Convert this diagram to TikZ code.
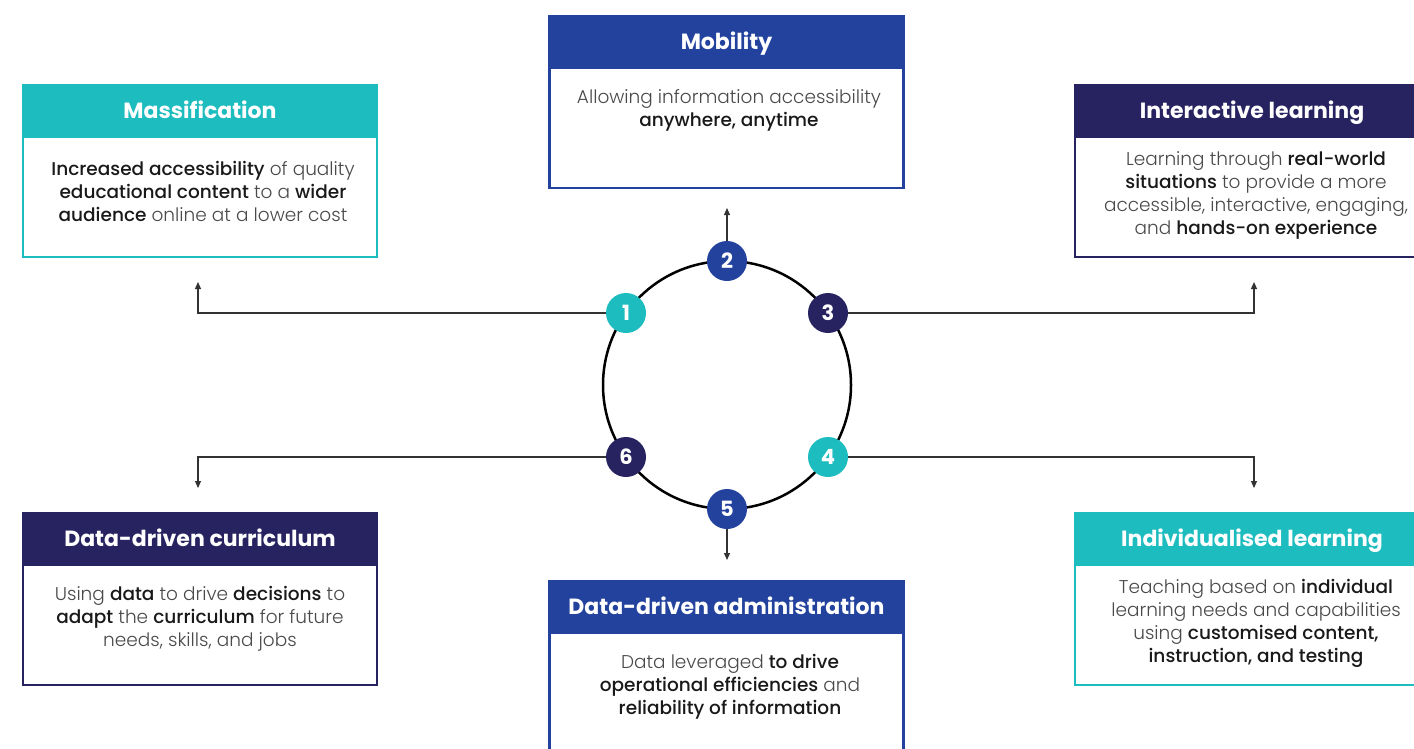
\documentclass[tikz,border=0pt]{standalone}
\usepackage{fontspec}
\setmainfont{Poppins}
\newfontface\medfont{Poppins Medium}
\newfontface\lightfont{Poppins Light}
\usetikzlibrary{arrows.meta}
\definecolor{cteal}{HTML}{1CBCBF}
\definecolor{cblue}{HTML}{22429E}
\definecolor{cnavy}{HTML}{272360}
\definecolor{ctext}{HTML}{4A4A4A}
\newcommand{\strongtxt}[1]{{\medfont\color{black!90}#1}}
\tikzset{
  card/.style={draw=#1, line width=2.5pt, fill=white, minimum width=354pt, minimum height=172pt, inner sep=0pt},
  cardhead/.style={draw=#1, fill=#1, line width=2.5pt, minimum width=354pt, minimum height=52pt, inner sep=0pt, text=white, text height=15pt, text depth=0pt, font=\fontsize{22}{26}\selectfont\bfseries},
  cardbody/.style={align=center, text=ctext, inner sep=0pt, font=\fontsize{18.5}{23}\selectfont\lightfont},
  num/.style={circle, fill=#1, minimum size=40pt, inner sep=0pt, text=white, font=\fontsize{21}{24}\selectfont\bfseries},
  ring/.style={circle, draw=black, line width=2.5pt, minimum size=248pt, inner sep=0pt},
  conn/.style={line width=1.2pt, draw=black!80, -{Triangle[length=7pt,width=6pt]}},
}
\begin{document}
\begin{tikzpicture}[x=1pt,y=-1pt]
\useasboundingbox (0,0) rectangle (1414,748);
\clip (0,0) rectangle (1414,748);
\fill[white] (0,0) rectangle (1414,748);

% cards
\node[card=cteal] (c1) at (200,171) {};
\node[cardhead=cteal, anchor=north] (h1) at (c1.north) {Massification};
\node[cardbody] (b1) at (203,191) {\strongtxt{Increased accessibility} of quality\\ \strongtxt{educational content} to a \strongtxt{wider}\\ \strongtxt{audience} online at a lower cost};

\node[card=cblue] (c2) at (726.5,102) {};
\node[cardhead=cblue, anchor=north] (h2) at (c2.north) {Mobility};
\node[cardbody] (b2) at (729,110.5) {Allowing information accessibility\\ \strongtxt{anywhere, anytime}};

\node[card=cnavy] (c3) at (1252,171) {};
\node[cardhead=cnavy, anchor=north] (h3) at (c3.north) {Interactive learning};
\node[cardbody] (b3) at (1256,195) {Learning through \strongtxt{real-world}\\ \strongtxt{situations} to provide a more\\ accessible, interactive, engaging,\\ and \strongtxt{hands-on experience}};

\node[card=cnavy] (c6) at (200,599) {};
\node[cardhead=cnavy, anchor=north] (h6) at (c6.north) {Data-driven curriculum};
\node[cardbody] (b6) at (200,619) {Using \strongtxt{data} to drive \strongtxt{decisions} to\\ \strongtxt{adapt} the \strongtxt{curriculum} for future\\ needs, skills, and jobs};

\node[card=cblue] (c5) at (726.5,667) {};
\node[cardhead=cblue, anchor=north] (h5) at (c5.north) {Data-driven administration};
\node[cardbody] (b5) at (730,687) {Data leveraged \strongtxt{to drive}\\ \strongtxt{operational efficiencies} and\\ \strongtxt{reliability of information}};

\node[card=cteal] (c4) at (1252,599) {};
\node[cardhead=cteal, anchor=north] (h4) at (c4.north) {Individualised learning};
\node[cardbody] (b4) at (1256,623) {Teaching based on \strongtxt{individual}\\ learning needs and capabilities\\ using \strongtxt{customised content,}\\ \strongtxt{instruction, and testing}};

% ring
\node[ring] (ring) at (727,385) {};

% connector end points
\coordinate (a1) at (198,282);
\coordinate (a2) at (727,208);
\coordinate (a3) at (1254,282);
\coordinate (a4) at (1254,488);
\coordinate (a5) at (727,560);
\coordinate (a6) at (198,488);

% numbers
\node[num=cteal] (n1) at (626,313) {1};
\node[num=cblue] (n2) at (727,261) {2};
\node[num=cnavy] (n3) at (828,313) {3};
\node[num=cteal] (n4) at (828,457) {4};
\node[num=cblue] (n5) at (727,509) {5};
\node[num=cnavy] (n6) at (626,457) {6};

\draw[conn] (n1.west) -| (a1);
\draw[conn] (n2.north) -- (a2);
\draw[conn] (n3.east) -| (a3);
\draw[conn] (n4.east) -| (a4);
\draw[conn] (n5.south) -- (a5);
\draw[conn] (n6.west) -| (a6);
\end{tikzpicture}
\end{document}
